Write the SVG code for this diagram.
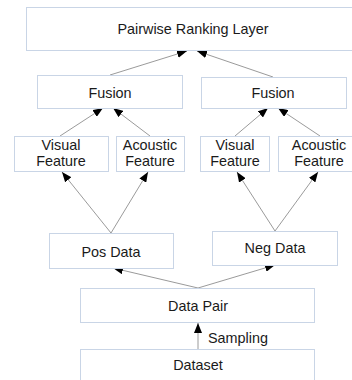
<svg xmlns="http://www.w3.org/2000/svg" width="352" height="380" viewBox="0 0 352 380">
<style>
.box{fill:#fff;stroke:#c9d5e6;stroke-width:1}
.t{font-family:"Liberation Sans",Arial,sans-serif;font-size:14.4px;fill:#1a1a1a;text-anchor:middle}
.c{stroke:#808080;stroke-width:0.8;fill:none;marker-end:url(#ah)}
</style>
<defs>
<marker id="ah" markerUnits="userSpaceOnUse" markerWidth="10" markerHeight="8" refX="10" refY="4" orient="auto">
<path d="M0,0 L10,4 L0,8 z" fill="#000"/>
</marker>
</defs>
<rect width="352" height="380" fill="#fff"/>
<g id="connectors">
<line class="c" x1="110" y1="75" x2="187" y2="51"/>
<line class="c" x1="273" y1="77" x2="197" y2="51"/>
<line class="c" x1="60" y1="136" x2="103" y2="108"/>
<line class="c" x1="150" y1="136" x2="113" y2="108"/>
<line class="c" x1="235" y1="136" x2="268" y2="108"/>
<line class="c" x1="320" y1="136" x2="278" y2="108"/>
<line class="c" x1="111" y1="233" x2="62" y2="172"/>
<line class="c" x1="111" y1="233" x2="148" y2="172"/>
<line class="c" x1="275" y1="231" x2="237" y2="172"/>
<line class="c" x1="275" y1="231" x2="318" y2="172"/>
<line class="c" x1="198" y1="288" x2="113" y2="268"/>
<line class="c" x1="198" y1="288" x2="275" y2="265"/>
<line class="c" x1="198" y1="349" x2="198" y2="323"/>
<text class="t" x="208" y="343" style="text-anchor:start">Sampling</text>
</g>
<g id="ranking"><rect class="box" x="26.5" y="7.5" width="330" height="43"/><text class="t" x="193" y="34">Pairwise Ranking Layer</text></g>
<g id="fusion-left"><rect class="box" x="37.5" y="75.5" width="145" height="33"/><text class="t" x="110" y="98">Fusion</text></g>
<g id="fusion-right"><rect class="box" x="201.5" y="77.5" width="145" height="31"/><text class="t" x="273" y="98">Fusion</text></g>
<g id="visual-left"><rect class="box" x="14.5" y="136.5" width="94" height="35"/><text class="t" x="61" y="150">Visual</text><text class="t" x="61" y="166">Feature</text></g>
<g id="acoustic-left"><rect class="box" x="116.5" y="136.5" width="68" height="35"/><text class="t" x="150" y="150">Acoustic</text><text class="t" x="150" y="166">Feature</text></g>
<g id="visual-right"><rect class="box" x="200.5" y="136.5" width="69" height="35"/><text class="t" x="235" y="150">Visual</text><text class="t" x="235" y="166">Feature</text></g>
<g id="acoustic-right"><rect class="box" x="278.5" y="136.5" width="74" height="35"/><text class="t" x="319" y="150">Acoustic</text><text class="t" x="319" y="166">Feature</text></g>
<g id="pos-data"><rect class="box" x="49.5" y="233.5" width="124" height="35"/><text class="t" x="111" y="257">Pos Data</text></g>
<g id="neg-data"><rect class="box" x="212.5" y="231.5" width="125" height="34"/><text class="t" x="275" y="253">Neg Data</text></g>
<g id="data-pair"><rect class="box" x="80.5" y="288.5" width="234" height="34"/><text class="t" x="198" y="311">Data Pair</text></g>
<g id="dataset"><rect class="box" x="80.5" y="349.5" width="234" height="40"/><text class="t" x="198" y="370">Dataset</text></g>
</svg>
